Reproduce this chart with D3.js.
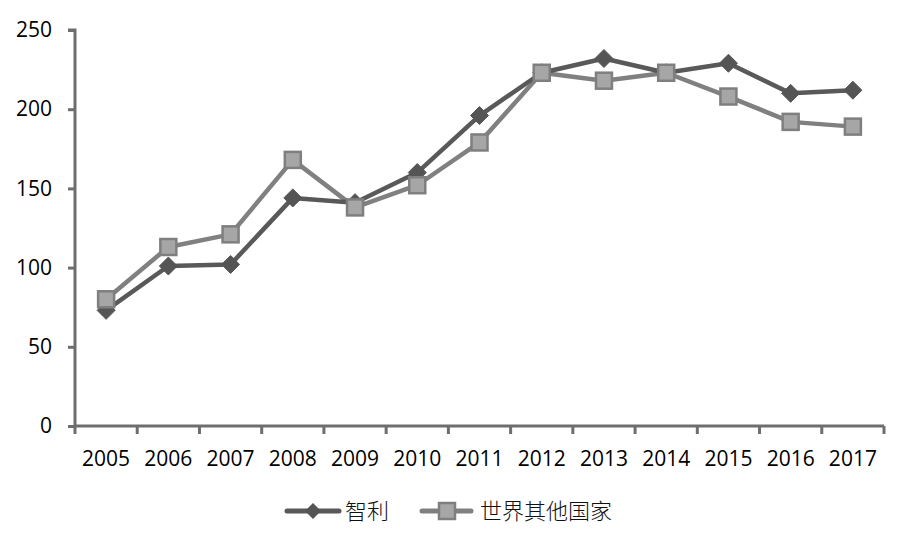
<!DOCTYPE html>
<html><head><meta charset="utf-8">
<script src="https://cdn.jsdelivr.net/npm/d3@7"></script>
<style>body{margin:0;background:#fff}</style>
</head><body><svg id="c" width="900" height="536"></svg>
<script>
const years = ["2005","2006","2007","2008","2009","2010","2011","2012","2013","2014","2015","2016","2017"];
const chile = [73,101,102,144,141,160,196,223,232,223,229,210,212];
const rest  = [80,113,121,168,138,152,179,223,218,223,208,192,189];
const yTicks = [0,50,100,150,200,250];
const seriesNames = ["智利","世界其他国家"];

const svg = d3.select("#c");
const L=75, R=884, T=30, B=426;
const x = d3.scaleBand().domain(years).range([L,R]);
const y = d3.scaleLinear().domain([0,250]).range([B,T]);
const axisCol="#6e6e6e";
const font="'Open Sans', sans-serif";

// y axis
const ya = svg.append("g").attr("transform",`translate(${L},0)`)
  .call(d3.axisLeft(y).tickValues(yTicks).tickSize(7).tickPadding(16).tickFormat(d3.format("d")));
ya.select(".domain").attr("stroke",axisCol).attr("stroke-width",3).attr("d",`M-7,${T}H0V${B}`);
ya.selectAll(".tick line").attr("stroke",axisCol).attr("stroke-width",3);
ya.selectAll("text").attr("font-family",font).attr("font-size",21).attr("fill","#000");

// x axis
const xa = svg.append("g").attr("transform",`translate(0,${B})`)
  .call(d3.axisBottom(x).tickSize(0).tickPadding(25));
xa.select(".domain").attr("stroke",axisCol).attr("stroke-width",3).attr("d",`M${L},0H${R}`);
xa.selectAll("text").attr("font-family",font).attr("font-size",21).attr("fill","#000");
const edges = years.map(d=>x(d)).concat([R]);
svg.append("g").selectAll("line").data(edges).join("line")
  .attr("x1",d=>d).attr("x2",d=>d).attr("y1",B).attr("y2",B+8)
  .attr("stroke",axisCol).attr("stroke-width",3);

const cx = d=>x(d)+x.bandwidth()/2;
const line = d3.line().x((d,i)=>cx(years[i])).y(d=>y(d));

// rest of world
svg.append("path").datum(rest).attr("d",line).attr("fill","none")
  .attr("stroke","#808080").attr("stroke-width",4.5).attr("stroke-linejoin","round");
// chile
svg.append("path").datum(chile).attr("d",line).attr("fill","none")
  .attr("stroke","#595959").attr("stroke-width",4.5).attr("stroke-linejoin","round");

const diamond = s=>`M0,${-s}L${s},0L0,${s}L${-s},0Z`;
svg.append("g").selectAll("path").data(chile).join("path")
  .attr("d",diamond(9)).attr("transform",(d,i)=>`translate(${cx(years[i])},${y(d)})`)
  .attr("fill","#555").attr("stroke","#555").attr("stroke-width",1);
svg.append("g").selectAll("rect").data(rest).join("rect")
  .attr("x",(d,i)=>cx(years[i])-8).attr("y",d=>y(d)-8).attr("width",16).attr("height",16)
  .attr("fill","#a6a6a6").attr("stroke","#7f7f7f").attr("stroke-width",2.5);

// legend
const lg = svg.append("g");
const ly = 511;
lg.append("line").attr("x1",287).attr("x2",339).attr("y1",ly).attr("y2",ly)
  .attr("stroke","#595959").attr("stroke-width",5).attr("stroke-linecap","round");
lg.append("path").attr("d",diamond(8)).attr("transform",`translate(313,${ly})`).attr("fill","#555");
lg.append("text").attr("x",345).attr("y",ly+8).text(seriesNames[0])
  .attr("font-family","'Noto Sans CJK SC'").attr("font-weight",300).attr("font-size",22).attr("fill","#111");
lg.append("line").attr("x1",422).attr("x2",471).attr("y1",ly).attr("y2",ly)
  .attr("stroke","#808080").attr("stroke-width",5).attr("stroke-linecap","round");
lg.append("rect").attr("x",439).attr("y",ly-8).attr("width",16).attr("height",16)
  .attr("fill","#a6a6a6").attr("stroke","#7f7f7f").attr("stroke-width",2.5);
lg.append("text").attr("x",480).attr("y",ly+8).text(seriesNames[1])
  .attr("font-family","'Noto Sans CJK SC'").attr("font-weight",300).attr("font-size",22).attr("fill","#111");
</script></body></html>
